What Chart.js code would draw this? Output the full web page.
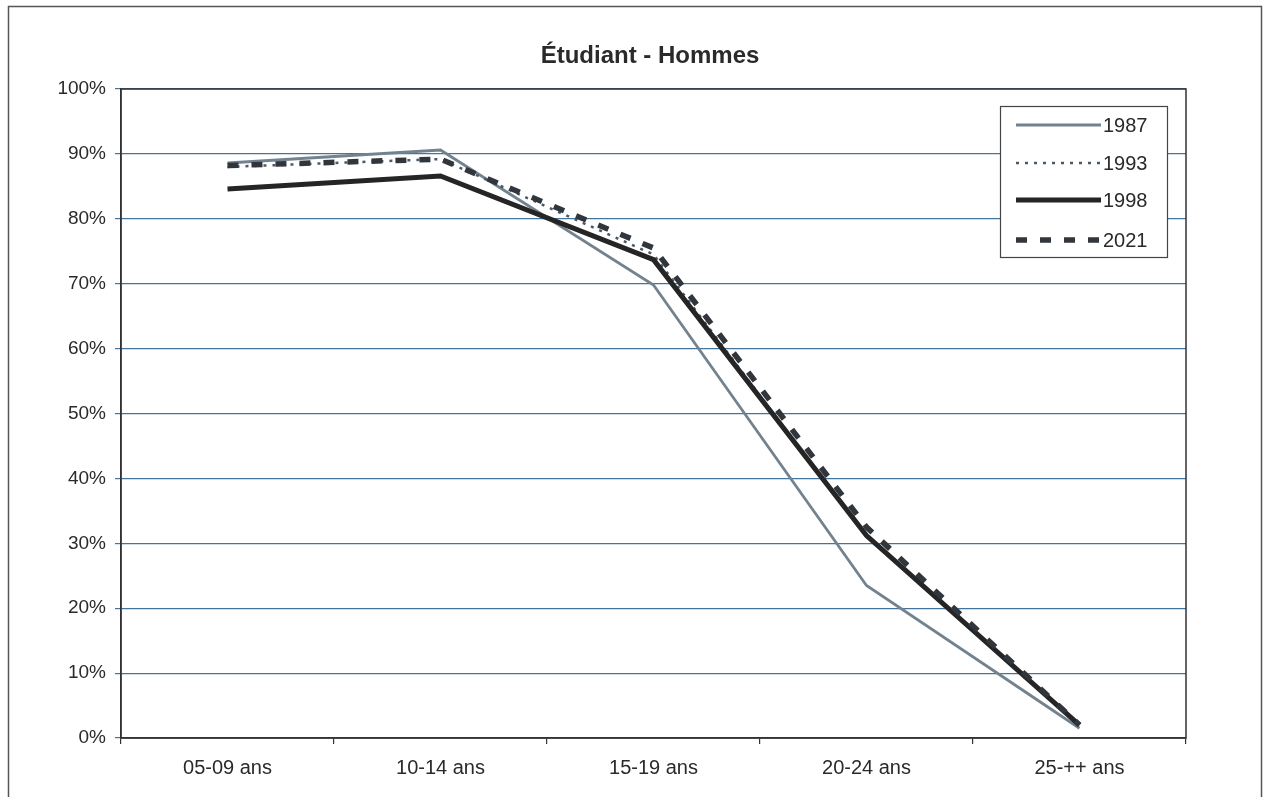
<!DOCTYPE html>
<html>
<head>
<meta charset="utf-8">
<script src="https://cdn.jsdelivr.net/npm/chart.js@4/dist/chart.umd.min.js"></script>
<style>
  html, body { margin: 0; padding: 0; background: #fff; }
  #wrap { width: 1265px; height: 797px; position: relative; }
</style>
</head>
<body>
<div id="wrap"><canvas id="chart" width="1265" height="797"></canvas></div>
<script>
const categories = ["05-09 ans", "10-14 ans", "15-19 ans", "20-24 ans", "25-++ ans"];
const yTicks = [0, 10, 20, 30, 40, 50, 60, 70, 80, 90, 100];

const serie1987 = [88.6, 90.6, 69.8, 23.5, 1.5];
const serie1993 = [88.0, 89.2, 74.5, 31.0, 2.0];
const serie1998 = [84.6, 86.6, 73.7, 31.2, 2.0];
const serie2021 = [88.2, 89.2, 75.5, 32.5, 2.0];

const series = [
  { label: "1987", data: serie1987, color: "#72838f", width: 2.8, dash: [] },
  { label: "1993", data: serie1993, color: "#4b5967", width: 2.5, dash: [3, 6] },
  { label: "1998", data: serie1998, color: "#252525", width: 5, dash: [] },
  { label: "2021", data: serie2021, color: "#30363c", width: 5.5, dash: [11, 13] }
];

const police = "'Liberation Sans', Arial, sans-serif";

const cadre = {
  id: "cadre",
  beforeDraw(chart) {
    const { ctx } = chart;
    ctx.save();
    ctx.fillStyle = "#fff";
    ctx.fillRect(0, 0, chart.width, chart.height);
    ctx.strokeStyle = "#555";
    ctx.lineWidth = 1.5;
    ctx.strokeRect(8.5, 6.5, 1253, 800);
    ctx.font = "bold 24px " + police;
    ctx.fillStyle = "#2a2a2a";
    ctx.textAlign = "center";
    ctx.textBaseline = "middle";
    ctx.fillText("Étudiant - Hommes", 650, 56);
    ctx.restore();
  },
  afterDatasetsDraw(chart) {
    const { ctx, chartArea: a } = chart;
    ctx.save();
    ctx.strokeStyle = "#333";
    ctx.lineWidth = 1.5;
    ctx.strokeRect(a.left, a.top, a.right - a.left, a.bottom - a.top);

    // légende
    const bx = 1000, by = 106, bw = 167, bh = 151;
    ctx.fillStyle = "#fff";
    ctx.fillRect(bx, by, bw, bh);
    ctx.strokeStyle = "#444";
    ctx.lineWidth = 1.2;
    ctx.strokeRect(bx + 0.5, by + 0.5, bw, bh);
    const rows = [125, 163, 200, 240];
    ctx.font = "20px " + police;
    ctx.textBaseline = "middle";
    ctx.textAlign = "left";
    series.forEach((s, i) => {
      ctx.beginPath();
      ctx.strokeStyle = s.color;
      ctx.lineWidth = s.width;
      ctx.setLineDash(s.dash);
      ctx.moveTo(1016, rows[i]);
      ctx.lineTo(1101, rows[i]);
      ctx.stroke();
      ctx.setLineDash([]);
      ctx.fillStyle = "#2a2a2a";
      ctx.fillText(s.label, 1103, rows[i] + 1);
    });
    ctx.restore();
  }
};

new Chart(document.getElementById("chart"), {
  type: "line",
  data: {
    labels: categories,
    datasets: series.map((s, i) => ({
      label: s.label,
      data: s.data,
      borderColor: s.color,
      borderWidth: s.width,
      borderDash: s.dash,
      pointRadius: 0,
      tension: 0,
      fill: false,
      order: 4 - i
    }))
  },
  options: {
    responsive: false,
    animation: false,
    layout: { padding: { left: 0, right: 79, top: 89, bottom: 0 } },
    plugins: {
      legend: { display: false },
      title: { display: false },
      tooltip: { enabled: false }
    },
    scales: {
      x: {
        type: "category",
        offset: true,
        grid: { offset: true, drawOnChartArea: false, drawTicks: true, tickLength: 6, color: "#333", lineWidth: 1.2 },
        border: { color: "#333", width: 1.5 },
        ticks: { color: "#2a2a2a", font: { size: 20, family: police }, padding: 12, maxRotation: 0 },
        afterFit(scale) { scale.height = 59; }
      },
      y: {
        min: 0,
        max: 100,
        afterBuildTicks(scale) { scale.ticks = yTicks.map(v => ({ value: v })); },
        grid: { color: "#44739c", lineWidth: 1.2, drawTicks: true, tickLength: 6 },
        border: { color: "#333", width: 1.5 },
        ticks: {
          color: "#2a2a2a",
          font: { size: 19, family: police },
          padding: 9,
          callback: v => v + "%"
        },
        afterFit(scale) { scale.width = 121; }
      }
    }
  },
  plugins: [cadre]
});
</script>
</body>
</html>
